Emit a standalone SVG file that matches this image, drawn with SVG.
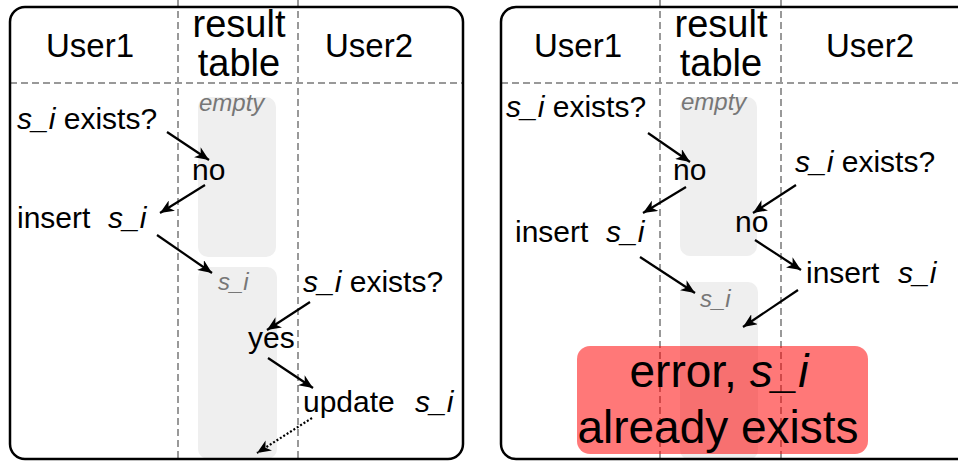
<svg xmlns="http://www.w3.org/2000/svg" width="958" height="461" viewBox="0 0 958 461">
<style>
text{font-family:"Liberation Sans",Arial,sans-serif;fill:#000}
.hd{font-size:33px;text-anchor:middle}
.hd2{font-size:38px;text-anchor:middle}
.t{font-size:30px}
.it{font-style:italic}
.g{font-size:24px;font-style:italic;fill:#777}
.err{font-size:46px;text-anchor:middle}
.frame{fill:none;stroke:#000;stroke-width:2.5}
.dash{stroke:#999;stroke-width:2;stroke-dasharray:7,4;fill:none}
.cell{fill:#efefef}
.arr{stroke:#000;stroke-width:2.2;fill:none;marker-end:url(#ah)}
.dot{stroke:#000;stroke-width:2.2;fill:none;stroke-dasharray:2,2;marker-end:url(#ah)}
</style>
<defs>
<marker id="ah" markerUnits="userSpaceOnUse" markerWidth="16" markerHeight="12" refX="14" refY="6" orient="auto">
<path d="M0,0 L14,6 L0,12 L4,6 Z" fill="#000"/>
</marker>
</defs>
<rect width="958" height="461" fill="#fff"/>

<g id="panel-left">
<rect class="cell" x="198" y="97" width="78" height="160" rx="10"/>
<rect class="cell" x="198" y="267" width="79" height="192" rx="10"/>
<line class="dash" x1="178" y1="0" x2="178" y2="461"/>
<line class="dash" x1="298" y1="0" x2="298" y2="461"/>
<line class="dash" x1="10" y1="83" x2="463" y2="83"/>
<rect class="frame" x="10" y="7" width="453" height="452" rx="15"/>
<text class="hd" x="90" y="57">User1</text>
<text class="hd2" x="239" y="37">result</text>
<text class="hd2" x="239" y="76">table</text>
<text class="hd" x="369" y="57">User2</text>
</g>

<g id="panel-right">
<rect class="cell" x="680" y="97" width="77" height="159" rx="10"/>
<rect class="cell" x="680" y="282" width="78" height="178" rx="10"/>
<line class="dash" x1="660" y1="0" x2="660" y2="461"/>
<line class="dash" x1="781" y1="0" x2="781" y2="461"/>
<line class="dash" x1="501" y1="83" x2="958" y2="83"/>
<rect class="frame" x="501" y="7" width="475" height="452" rx="15"/>
<text class="hd" x="578" y="57">User1</text>
<text class="hd2" x="721" y="37">result</text>
<text class="hd2" x="721" y="76">table</text>
<text class="hd" x="870" y="57">User2</text>
</g>

<g id="l-empty"><text class="g" x="199" y="111">empty</text></g>
<g id="l-q1"><text class="t" x="17" y="129"><tspan class="it">s_i</tspan> exists?</text></g>
<g id="l-no"><text class="t" x="192" y="180">no</text></g>
<g id="l-insert"><text class="t" x="17" y="228">insert</text><text class="t it" x="108" y="228">s_i</text></g>
<g id="l-si"><text class="g" x="218" y="290">s_i</text></g>
<g id="l-q2"><text class="t" x="303" y="292"><tspan class="it">s_i</tspan> exists?</text></g>
<g id="l-yes"><text class="t" x="248" y="348">yes</text></g>
<g id="l-update"><text class="t" x="303" y="412">update</text><text class="t it" x="415" y="412">s_i</text></g>

<g id="r-empty"><text class="g" x="681" y="110">empty</text></g>
<g id="r-q1"><text class="t" x="506" y="117"><tspan class="it">s_i</tspan> exists?</text></g>
<g id="r-no1"><text class="t" x="673" y="180">no</text></g>
<g id="r-q2"><text class="t" x="795" y="172"><tspan class="it">s_i</tspan> exists?</text></g>
<g id="r-no2"><text class="t" x="735" y="232">no</text></g>
<g id="r-insert1"><text class="t" x="515" y="242">insert</text><text class="t it" x="606" y="242">s_i</text></g>
<g id="r-insert2"><text class="t" x="806" y="283">insert</text><text class="t it" x="898" y="283">s_i</text></g>
<g id="r-si"><text class="g" x="700" y="307">s_i</text></g>
<g id="r-error">
<rect x="577" y="346" width="291" height="108" rx="13" fill="#ff0000" fill-opacity="0.53"/>
<text class="err" x="719" y="387">error, <tspan class="it">s_i</tspan></text>
<text class="err" x="718" y="443">already exists</text>
</g>

<g id="connectors">
<path class="arr" d="M167,132 L209,160"/>
<path class="arr" d="M205,185 L160,213"/>
<path class="arr" d="M157,235 L212,273"/>
<path class="arr" d="M310,302 L267,330"/>
<path class="arr" d="M268,358 L313,388"/>
<path class="dot" d="M312,418 L257,453"/>
<path class="arr" d="M648,133 L690,162"/>
<path class="arr" d="M686,187 L643,213"/>
<path class="arr" d="M796,185 L753,213"/>
<path class="arr" d="M755,240 L801,270"/>
<path class="arr" d="M640,257 L695,293"/>
<path class="arr" d="M798,290 L743,327"/>
</g>
</svg>
